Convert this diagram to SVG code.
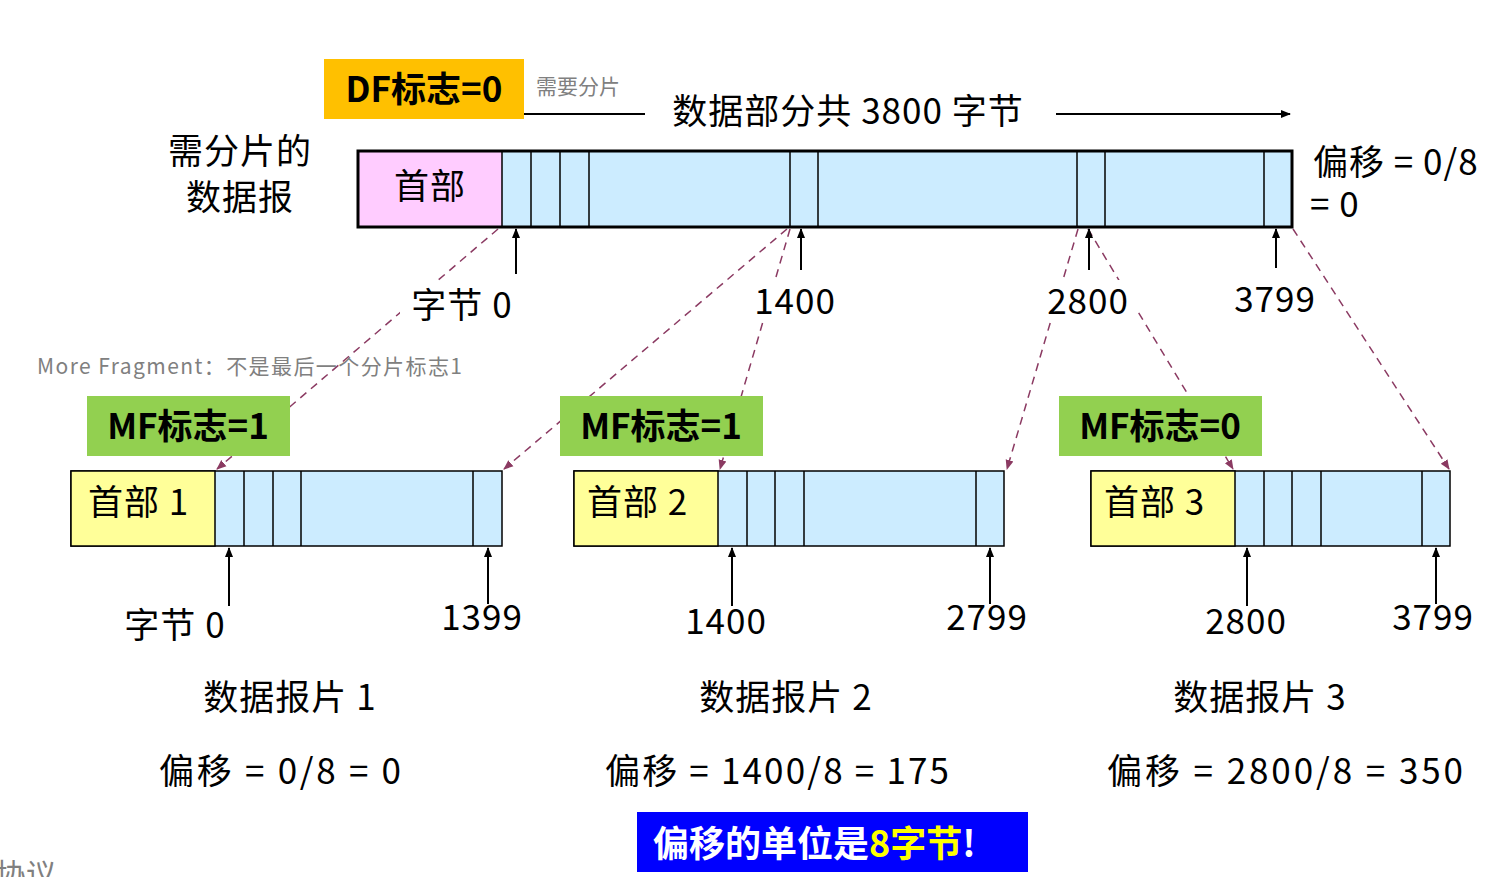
<svg xmlns="http://www.w3.org/2000/svg" width="1510" height="877" viewBox="0 0 1510 877">
<style>
text{font-family:"Noto Sans CJK SC","Noto Sans",sans-serif;fill:#000}
.big{font-size:35px;letter-spacing:1px}
.bold{font-weight:bold;font-size:35px}
.data{fill:#CCECFF;stroke:#000;stroke-width:1.5}
.dv{stroke:#000;stroke-width:1.5}
.dash{stroke:#8B3A62;stroke-width:1.5;stroke-dasharray:8,6;fill:none}
.ar{stroke:#000;stroke-width:2;marker-end:url(#a)}
.gray{fill:#808080;font-size:21px}
</style>
<defs>
<marker id="a" markerWidth="10" markerHeight="10" refX="9" refY="5" orient="auto" markerUnits="userSpaceOnUse"><path d="M0,1L10,5L0,9z" fill="#000"/></marker>
<marker id="p" markerWidth="10" markerHeight="10" refX="9" refY="5" orient="auto" markerUnits="userSpaceOnUse"><path d="M0,1L10,5L0,9z" fill="#8B3A62"/></marker>
</defs>
<rect width="1510" height="877" fill="#fff"/>
<g id="connectors">
<path class="dash" marker-end="url(#p)" d="M498,229L217,469"/>
<path class="dash" marker-end="url(#p)" d="M787,229L504,469"/>
<path class="dash" marker-end="url(#p)" d="M790,229L720,469"/>
<path class="dash" marker-end="url(#p)" d="M1078,229L1007,469"/>
<path class="dash" marker-end="url(#p)" d="M1088,229L1233,469"/>
<path class="dash" marker-end="url(#p)" d="M1293,229L1449,469"/>
<line class="ar" x1="516" y1="274" x2="516" y2="229"/>
<line class="ar" x1="801" y1="270" x2="801" y2="229"/>
<line class="ar" x1="1089" y1="270" x2="1089" y2="229"/>
<line class="ar" x1="1276" y1="268" x2="1276" y2="229"/>
<line class="ar" x1="229" y1="606" x2="229" y2="548"/>
<line class="ar" x1="488" y1="604" x2="488" y2="548"/>
<line class="ar" x1="732" y1="606" x2="732" y2="548"/>
<line class="ar" x1="990" y1="604" x2="990" y2="548"/>
<line class="ar" x1="1247" y1="606" x2="1247" y2="548"/>
<line class="ar" x1="1436" y1="604" x2="1436" y2="548"/>
<line x1="524" y1="114" x2="645" y2="114" stroke="#000" stroke-width="2"/>
<line class="ar" x1="1056" y1="114" x2="1290" y2="114" stroke-width="1.5"/>
</g>
<g id="labels-bg" fill="#fff">
<rect x="745" y="280" width="100" height="42"/>
<rect x="1038" y="280" width="100" height="42"/>
<rect x="1228" y="278" width="96" height="42"/>
<rect x="400" y="283" width="125" height="45"/>
</g>
<g id="df"><rect x="324" y="59" width="200" height="60" fill="#FFC000"/><text class="bold" x="424" y="102" text-anchor="middle">DF标志=0</text></g>
<text class="gray" x="536" y="94">需要分片</text>
<text class="big" x="848" y="124" text-anchor="middle">数据部分共 3800 字节</text>
<text class="big" x="240" y="164" text-anchor="middle">需分片的</text>
<text class="big" x="240" y="210" text-anchor="middle">数据报</text>
<text class="big" x="1313" y="175">偏移 = 0/8</text>
<text class="big" x="1310" y="217">= 0</text>
<g id="datagram">
<rect x="358" y="151" width="934" height="76" fill="#CCECFF"/>
<rect x="358" y="151" width="144" height="76" fill="#FFCCFF"/>
<path class="dv" d="M502,151V227M531,151V227M560,151V227M589,151V227M790,151V227M818,151V227M1077,151V227M1105,151V227M1264,151V227"/>
<rect x="358" y="151" width="934" height="76" fill="none" stroke="#000" stroke-width="3"/>
<text class="big" x="430" y="199" text-anchor="middle">首部</text>
</g>
<text class="big" x="462" y="318" text-anchor="middle">字节 0</text>
<text class="big" x="795" y="314" text-anchor="middle">1400</text>
<text class="big" x="1088" y="314" text-anchor="middle">2800</text>
<text class="big" x="1275" y="312" text-anchor="middle">3799</text>
<text class="gray" x="37" y="374" textLength="425">More Fragment：不是最后一个分片标志1</text>
<g id="mf1"><rect x="87" y="396" width="203" height="60" fill="#92D050"/><text class="bold" x="188" y="439" text-anchor="middle">MF标志=1</text></g>
<g id="mf2"><rect x="560" y="396" width="203" height="60" fill="#92D050"/><text class="bold" x="661" y="439" text-anchor="middle">MF标志=1</text></g>
<g id="mf3"><rect x="1059" y="396" width="203" height="60" fill="#92D050"/><text class="bold" x="1160" y="439" text-anchor="middle">MF标志=0</text></g>
<g id="frag1">
<rect class="data" x="71" y="471" width="431" height="75"/>
<rect x="71" y="471" width="144" height="75" fill="#FFFF99" stroke="#000" stroke-width="1.5"/>
<path class="dv" d="M244,471V546M273,471V546M301,471V546M473,471V546"/>
<text class="big" x="88" y="515">首部 1</text>
</g>
<g id="frag2">
<rect class="data" x="574" y="471" width="430" height="75"/>
<rect x="574" y="471" width="144" height="75" fill="#FFFF99" stroke="#000" stroke-width="1.5"/>
<path class="dv" d="M747,471V546M775,471V546M804,471V546M976,471V546"/>
<text class="big" x="587" y="515">首部 2</text>
</g>
<g id="frag3">
<rect class="data" x="1091" y="471" width="359" height="75"/>
<rect x="1091" y="471" width="144" height="75" fill="#FFFF99" stroke="#000" stroke-width="1.5"/>
<path class="dv" d="M1264,471V546M1292,471V546M1321,471V546M1422,471V546"/>
<text class="big" x="1104" y="515">首部 3</text>
</g>
<text class="big" x="175" y="638" text-anchor="middle">字节 0</text>
<text class="big" x="482" y="630" text-anchor="middle">1399</text>
<text class="big" x="726" y="634" text-anchor="middle">1400</text>
<text class="big" x="987" y="630" text-anchor="middle">2799</text>
<text class="big" x="1246" y="634" text-anchor="middle">2800</text>
<text class="big" x="1433" y="630" text-anchor="middle">3799</text>
<text class="big" x="290" y="710" text-anchor="middle">数据报片 1</text>
<text class="big" x="786" y="710" text-anchor="middle">数据报片 2</text>
<text class="big" x="1260" y="710" text-anchor="middle">数据报片 3</text>
<text class="big" x="159" y="784" textLength="243">偏移 = 0/8 = 0</text>
<text class="big" x="605" y="784" textLength="345">偏移 = 1400/8 = 175</text>
<text class="big" x="1107" y="784" textLength="357">偏移 = 2800/8 = 350</text>
<g id="note"><rect x="637" y="812" width="391" height="60" fill="#0000FF"/>
<text x="653" y="857" style="font-weight:bold;font-size:36px;fill:#fff">偏移的单位是<tspan style="fill:#FFFF00">8字节</tspan>!</text></g>
<text x="-4" y="885" style="fill:#808080;font-size:30px">协议</text>
</svg>
